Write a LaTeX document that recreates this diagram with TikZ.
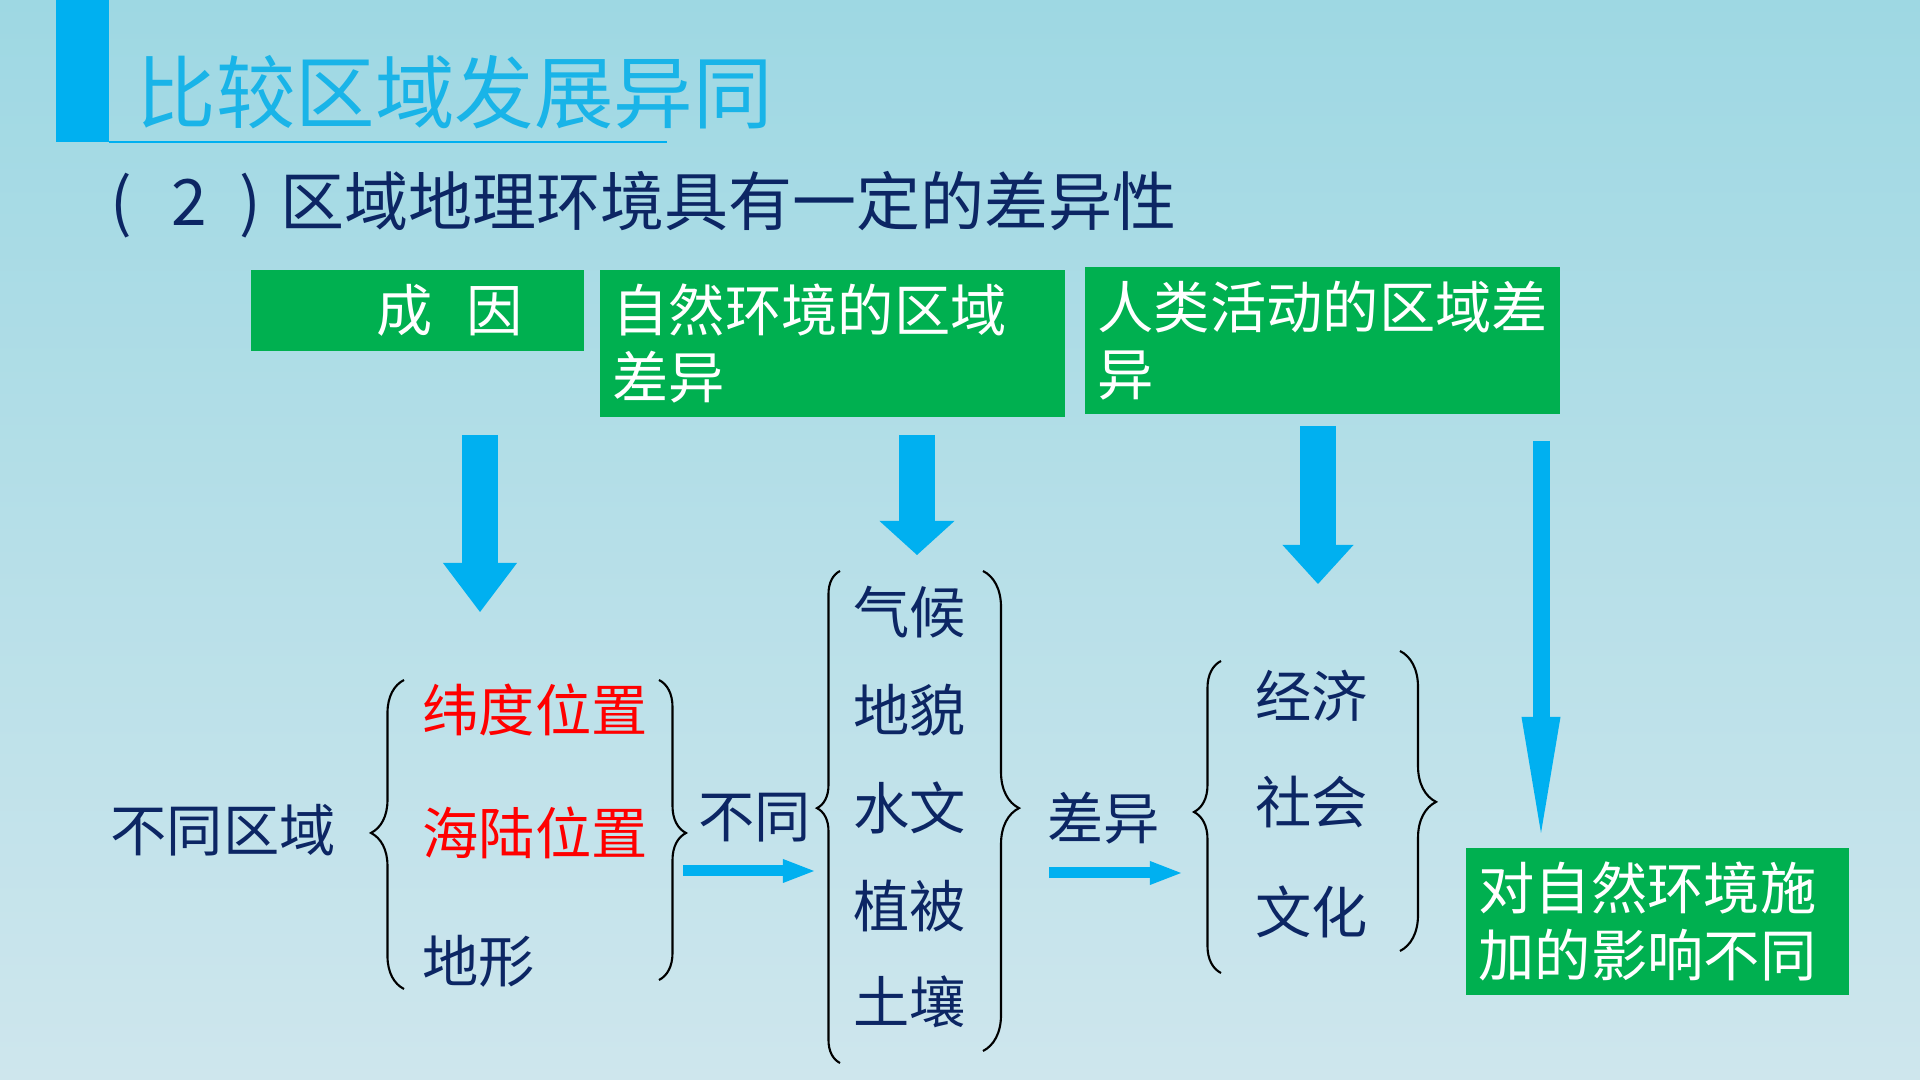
\documentclass[tikz,border=0pt]{standalone}
\usepackage{fontspec}
\setmainfont{Noto Sans CJK SC}
\usetikzlibrary{arrows.meta, decorations.pathreplacing}

\definecolor{bgtop}{RGB}{158,216,227}
\definecolor{bgbot}{RGB}{206,230,237}
\definecolor{skyblue}{RGB}{0,176,240}
\definecolor{titleblue}{RGB}{25,180,232}
\definecolor{navy}{RGB}{12,38,100}
\definecolor{boxgreen}{RGB}{0,176,80}

\begin{document}
\begin{tikzpicture}[x=0.01cm, y=-0.01cm,
  every node/.style={inner sep=0pt, font=\fontsize{16}{19}\selectfont, text=navy},
  gbox/.style={fill=boxgreen, text=white, anchor=north west, align=left, inner xsep=0.13cm, inner ysep=0pt},
  item/.style={anchor=west},
  redit/.style={anchor=west, text=red},
  curly/.style={draw=black, line width=0.6pt, decorate},
  barrow/.style={draw=skyblue, line cap=butt}]

  % Background
  \fill[top color=bgtop, bottom color=bgbot] (0,0) rectangle (1920,1080);

  % Title
  \fill[skyblue] (56,0) rectangle (109,142);
  \draw[skyblue, line width=0.6pt] (109,142) -- (667,142);
  \node[anchor=west, text=titleblue, font=\fontsize{22.6}{26}\selectfont] (title) at (136,92) {比较区域发展异同};
  \node[anchor=west, font=\fontsize{18.2}{22}\selectfont] (subtitle) at (110,205)
    {(\hspace{0.62em}2\hspace{0.5em})\hspace{0.3em}区域地理环境具有一定的差异性};

  % Green boxes
  \node[gbox, text width=3.07cm, minimum height=0.81cm] (cause) at (250,269) {\hspace*{1.13cm}成\hspace{0.6em}因};
  \node[gbox, text width=4.39cm, minimum height=1.47cm] (natdiff) at (599,269) {自然环境的区域\\差异};
  \node[gbox, text width=4.49cm, minimum height=1.47cm] (humdiff) at (1084,266) {人类活动的区域差\\异};
  \node[gbox, text width=3.57cm, minimum height=1.47cm] (effect) at (1465,847) {对自然环境施\\加的影响不同};

  % Causes
  \node[item] (regions) at (110,830) {不同区域};
  \node[redit] (lat) at (422,710) {纬度位置};
  \node[redit] (sealand) at (422,833) {海陆位置};
  \node[item] (relief) at (422,961) {地形};
  \node[item] (diffA) at (698,818) {不同};

  % Natural elements
  \node[item] (climate) at (853,612) {气候};
  \node[item] (landform) at (853,710) {地貌};
  \node[item] (hydro) at (853,808) {水文};
  \node[item] (veget) at (853,906) {植被};
  \node[item] (soil) at (853,1002) {土壤};
  \node[item] (diffB) at (1047,818) {差异};

  % Human activities
  \node[item] (econ) at (1255,696) {经济};
  \node[item] (society) at (1255,802) {社会};
  \node[item] (culture) at (1255,912) {文化};

  % Braces
  \draw[curly, decoration={brace, amplitude=0.33cm, aspect=0.505}] (404,989) -- (404,680);
  \draw[curly, decoration={brace, amplitude=0.27cm, aspect=0.51}] (659,680) -- (659,980);
  \draw[curly, decoration={brace, amplitude=0.23cm, aspect=0.518}] (840,1063) -- (840,571);
  \draw[curly, decoration={brace, amplitude=0.36cm, aspect=0.494}] (983,571) -- (983,1051);
  \draw[curly, decoration={brace, amplitude=0.27cm, aspect=0.516}] (1221,973) -- (1221,661);
  \draw[curly, decoration={brace, amplitude=0.36cm, aspect=0.503}] (1400,651) -- (1400,951);

  % Arrow end points
  \coordinate (c1a) at (480,435);  \coordinate (c1b) at (480,612);
  \coordinate (c2a) at (917,435);  \coordinate (c2b) at (917,555);
  \coordinate (c3a) at (1318,426); \coordinate (c3b) at (1318,584);
  \coordinate (c4a) at (1541,441); \coordinate (c4b) at (1541,833);
  \coordinate (h1a) at (683,871);  \coordinate (h1b) at (814,871);
  \coordinate (h2a) at (1049,873); \coordinate (h2b) at (1181,873);

  % Down arrows
  \draw[barrow, line width=0.35cm, -{Triangle[width=0.74cm, length=0.49cm, line width=0pt]}] (c1a) -- (c1b);
  \draw[barrow, line width=0.35cm, -{Triangle[width=0.75cm, length=0.34cm, line width=0pt]}] (c2a) -- (c2b);
  \draw[barrow, line width=0.35cm, -{Triangle[width=0.71cm, length=0.39cm, line width=0pt]}] (c3a) -- (c3b);
  \draw[barrow, line width=0.17cm, -{Triangle[width=0.39cm, length=1.16cm, line width=0pt]}] (c4a) -- (c4b);

  % Side arrows
  \draw[barrow, line width=0.11cm, -{Triangle[width=0.24cm, length=0.31cm, line width=0pt]}] (h1a) -- (h1b);
  \draw[barrow, line width=0.11cm, -{Triangle[width=0.24cm, length=0.31cm, line width=0pt]}] (h2a) -- (h2b);
\end{tikzpicture}
\end{document}
